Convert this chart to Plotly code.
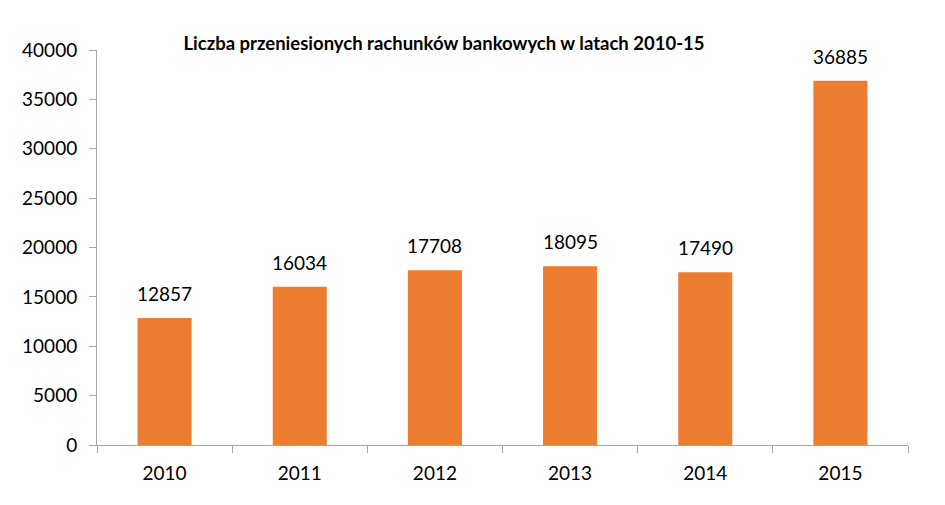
import plotly.graph_objects as go

years = ["2010", "2011", "2012", "2013", "2014", "2015"]
accounts = [12857, 16034, 17708, 18095, 17490, 36885]
y_ticks = [0, 5000, 10000, 15000, 20000, 25000, 30000, 35000, 40000]

fig = go.Figure()
fig.add_bar(
    x=years, y=accounts,
    marker=dict(color="#ED7D31", line=dict(width=0)),
    width=0.4,
)

# value labels above the bars (x is the category index)
for i, v in enumerate(accounts):
    fig.add_annotation(
        x=i, y=v, text=str(v), showarrow=False,
        yanchor="bottom", yshift=11,
        font=dict(size=19, color="#000000"),
    )

fig.update_layout(
    width=945, height=505,
    margin=dict(l=89, r=45, t=42, b=68),
    paper_bgcolor="white", plot_bgcolor="white",
    font=dict(family="Lato, sans-serif", size=19, color="#000000"),
    showlegend=False,
    title=dict(
        text="<b>Liczba przeniesionych rachunków bankowych w latach 2010-15</b>",
        x=436 / 945, xanchor="center", y=1 - 36 / 505, yanchor="middle",
        font=dict(size=18.5, color="#000000"),
    ),
)
fig.update_xaxes(
    type="category",
    showline=True, linecolor="#A6A6A6", linewidth=1,
    ticks="outside", tickson="boundaries", ticklen=7, tickcolor="#A6A6A6",
    showgrid=False, ticklabelstandoff=11,
)
fig.update_yaxes(
    range=[0, 40000], tickvals=y_ticks, ticktext=[str(t) for t in y_ticks],
    showline=True, linecolor="#A6A6A6", linewidth=1,
    ticks="outside", ticklen=7, tickcolor="#A6A6A6",
    showgrid=False, zeroline=False, ticklabelstandoff=8,
)

fig.write_html("out.html")
